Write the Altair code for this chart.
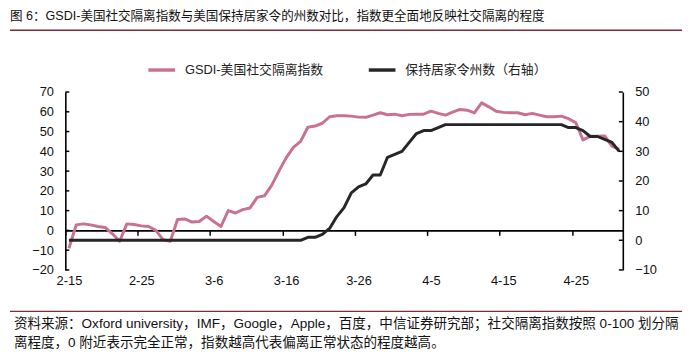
import altair as alt
import pandas as pd

# ---- data ----
dates = [f"{d.month}-{d.day}" for d in pd.date_range("2020-02-15", "2020-05-01")]

gsdi = [-9, 2.8, 3.3, 2.8, 2.0, 1.5, -1.7, -5.5, 3.3, 3.0,
        2.3, 2.0, 0.0, -4.7, -5.5, 5.5, 5.8, 4.2, 4.5, 7.2,
        4.5, 2.0, 10.0, 8.8, 10.5, 11.3, 16.7, 17.5, 22.8, 30.0,
        36.7, 42.0, 45.0, 52.2, 52.8, 54.2, 57.5, 58.0, 58.0, 57.8,
        57.3, 57.2, 58.3, 59.5, 58.5, 58.8, 58.0, 58.7, 58.8, 58.8,
        60.3, 59.2, 58.3, 59.8, 61.2, 60.8, 59.5, 64.5, 62.5, 60.3,
        59.7, 59.5, 59.5, 58.5, 59.2, 58.3, 57.5, 57.5, 57.8, 56.5,
        54.5, 45.8, 47.6, 47.6, 47.8, 42.6, 41.0]

states = [0] * 33 + [1, 1, 2, 4, 8, 11, 16, 18, 19, 22, 22, 28, 29, 30, 33, 36, 37, 37, 38] + \
         [39] * 17 + [38, 38, 37, 35, 35, 34, 33, 30]

tick_labels = ["2-15", "2-25", "3-6", "3-16", "3-26", "4-5", "4-15", "4-25"]
left_ticks = [-20, -10, 0, 10, 20, 30, 40, 50, 60, 70]
right_ticks = [-10, 0, 10, 20, 30, 40, 50]

name_a = "GSDI-美国社交隔离指数"
name_b = "保持居家令州数（右轴）"
title_text = "图 6：GSDI-美国社交隔离指数与美国保持居家令的州数对比，指数更全面地反映社交隔离的程度"
foot1 = "资料来源：Oxford university，IMF，Google，Apple，百度，中信证券研究部；社交隔离指数按照 0-100 划分隔"
foot2 = "离程度，0 附近表示完全正常，指数越高代表偏离正常状态的程度越高。"

df = pd.DataFrame({"idx": list(range(len(dates))), "date": dates, "gsdi": gsdi, "states": states})

PINK = "#c8728e"
DARK = "#262626"
RULE = "#7a2c3a"
LATIN = "Liberation Sans, Noto Sans CJK SC"
CJK = "Liberation Sans, Noto Sans CJK SC"

W, H = 564, 180

tick_vals = [10 * k - 0.5 for k in range(len(tick_labels))]
label_arr = "[" + ",".join('"%s"' % t for t in tick_labels) + "]"

x_enc = alt.X(
    "idx:Q",
    scale=alt.Scale(domain=[-0.5, len(dates) - 0.5], nice=False, zero=False),
    axis=alt.Axis(values=tick_vals, labelExpr=f"{label_arr}[round((datum.value+0.5)/10)]",
                  offset=-40, tickSize=5, labelPadding=40, labelOffset=3.65,
                  labelFlush=False, grid=False, title=None, domainColor="#000",
                  tickColor="#000", domainWidth=1.6, tickWidth=1.5,
                  labelFont=LATIN, labelFontSize=13, labelColor="#111"),
)

left_scale = alt.Scale(domain=[-20, 70], nice=False, zero=False)
right_scale = alt.Scale(domain=[-10, 50], nice=False, zero=False)
left_axis = alt.Axis(values=left_ticks, ticks=False, labelPadding=12, grid=False, title=None,
                     domainColor="#000", domainWidth=1.6, labelFont=LATIN, labelFontSize=13,
                     labelColor="#111")
right_axis = alt.Axis(values=right_ticks, orient="right", ticks=False, labelPadding=12, grid=False,
                      title=None, domainColor="#000", domainWidth=1.6, labelFont=LATIN,
                      labelFontSize=13, labelColor="#111")

color_scale = alt.Scale(domain=[name_a, name_b], range=[PINK, DARK])
legend = alt.Legend(orient="none", legendX=82, legendY=-38, direction="horizontal", title=None,
                    symbolType="stroke", symbolSize=729, symbolStrokeWidth=3.5,
                    labelFont=CJK, labelFontSize=13, labelColor="#222", labelOffset=8,
                    columnPadding=38, labelLimit=300)

base = alt.Chart(df)
pink = base.transform_calculate(series=f"'{name_a}'").mark_line(strokeWidth=3, strokeJoin="round").encode(
    x=x_enc,
    y=alt.Y("gsdi:Q", scale=left_scale, axis=left_axis),
    color=alt.Color("series:N", scale=color_scale, legend=legend),
)
lt = alt.Chart(pd.DataFrame({"v": left_ticks})).mark_rule(color="#000", strokeWidth=1.5).encode(
    y=alt.Y("v:Q", scale=left_scale, axis=left_axis), x=alt.value(0), x2=alt.value(4))

black = base.transform_calculate(series=f"'{name_b}'").mark_line(strokeWidth=3, strokeJoin="round").encode(
    x=x_enc,
    y=alt.Y("states:Q", scale=right_scale, axis=right_axis),
    color=alt.Color("series:N", scale=color_scale, legend=legend),
)
rt = alt.Chart(pd.DataFrame({"v": right_ticks})).mark_rule(color="#000", strokeWidth=1.5).encode(
    y=alt.Y("v:Q", scale=right_scale, axis=right_axis), x=alt.value(W - 4), x2=alt.value(W))

one = pd.DataFrame({"a": [0]})
title = alt.Chart(pd.DataFrame({"t": [title_text]})).mark_text(
    align="left", baseline="middle", font=CJK, fontSize=12.7, color="#111").encode(
    text="t:N", x=alt.value(-56), y=alt.value(-77))
title_rule = alt.Chart(one).mark_rule(color=RULE, strokeWidth=1.3).encode(
    x=alt.value(-56), x2=alt.value(624), y=alt.value(-62.5))
foot_rule = alt.Chart(one).mark_rule(color=RULE, strokeWidth=1.3).encode(
    x=alt.value(-56), x2=alt.value(624), y=alt.value(222))
f1 = alt.Chart(pd.DataFrame({"t": [foot1]})).mark_text(
    align="left", baseline="middle", font=CJK, fontSize=13.7, color="#111").encode(
    text="t:N", x=alt.value(-52), y=alt.value(235))
f2 = alt.Chart(pd.DataFrame({"t": [foot2]})).mark_text(
    align="left", baseline="middle", font=CJK, fontSize=13.7, color="#111").encode(
    text="t:N", x=alt.value(-52), y=alt.value(254))

chart = alt.layer(
    alt.layer(pink, lt),
    alt.layer(black, rt),
    title, title_rule, foot_rule, f1, f2,
).resolve_scale(y="independent").properties(
    width=W, height=H,
    autosize=alt.AutoSizeParams(type="none"),
    padding={"left": 58, "top": 83, "right": 70, "bottom": 80},
).configure_view(stroke=None)

chart.save("out.html", embed_options={"renderer": "svg", "actions": False})
